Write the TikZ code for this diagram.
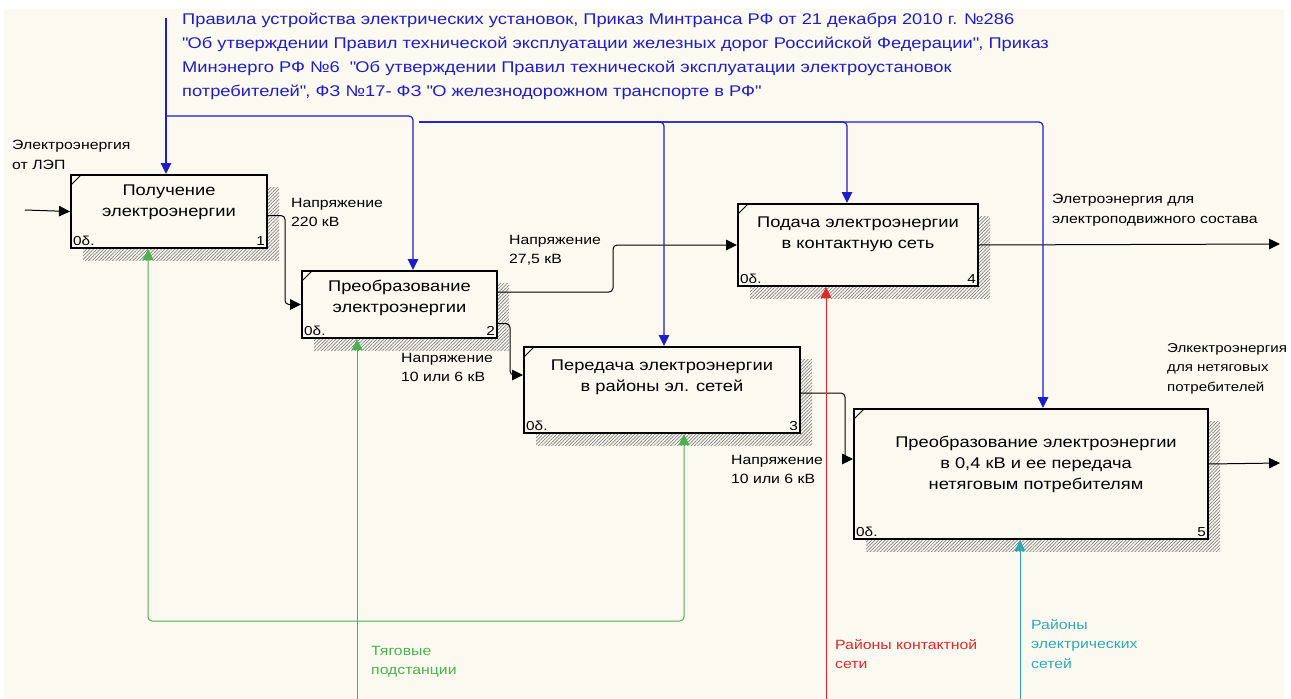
\documentclass[tikz,border=0pt]{standalone}
\usepackage{fontspec}
\setmainfont{Liberation Sans}[FakeStretch=1.18]
\usetikzlibrary{arrows.meta,calc,shadows,patterns.meta}
\definecolor{paper}{HTML}{FCFAF0}
\definecolor{ctrlblue}{HTML}{1E1EC8}
\definecolor{mechgreen}{HTML}{4CB04C}
\definecolor{mechred}{HTML}{E02828}
\definecolor{mechteal}{HTML}{30A8B4}
\tikzset{
  func/.style={draw, line width=2pt, fill=paper, anchor=north west, inner sep=0pt,
    general shadow={shadow xshift=12pt, shadow yshift=-12pt, draw=none,
      pattern={Lines[angle=45,distance=2.4pt,line width=0.7pt]}, pattern color=black!50}},
  boxtext/.style={font=\fontsize{15.5}{21}\selectfont, align=center, inner sep=0pt},
  corner/.style={font=\fontsize{13}{15}\selectfont, inner sep=3pt},
  lbl/.style={font=\fontsize{13.4}{19.5}\selectfont, align=left, anchor=north west, inner sep=0pt},
  tip/.tip={Triangle[length=11pt,width=10.5pt]},
  flow/.style={line width=1pt, -tip},
  ctrl/.style={flow, draw=ctrlblue, line width=1.2pt},
  mech/.style={flow, draw=mechgreen},
}
\begin{document}
\begin{tikzpicture}[x=1pt,y=-1pt]
  \useasboundingbox (0,0) rectangle (1291,699);
  \fill[paper] (4,9) rectangle (1284,699);
  % Function boxes
  \node[func, minimum width=196pt, minimum height=73pt] (b1) at (70,174) {};
  \node[func, minimum width=195pt, minimum height=67pt] (b2) at (301,270) {};
  \node[func, minimum width=276pt, minimum height=86pt] (b3) at (523,346) {};
  \node[func, minimum width=240pt, minimum height=82pt] (b4) at (737,203) {};
  \node[func, minimum width=354pt, minimum height=130pt] (b5) at (853,408) {};
  \foreach \b/\n in {b1/1,b2/2,b3/3,b4/4,b5/5} {
    \draw[line width=1pt] ($(\b.north west)+(1,11)$) -- ($(\b.north west)+(11,1)$);
    \node[corner, anchor=south west] (\b o) at (\b.south west) {0δ.};
    \node[corner, anchor=south east] (\b n) at (\b.south east) {\n};
  }
  \node[boxtext] (t1) at ($(b1.center)+(0,-9)$) {Получение\\электроэнергии};
  \node[boxtext] (t2) at ($(b2.center)+(0,-7)$) {Преобразование\\электроэнергии};
  \node[boxtext] (t3) at ($(b3.center)+(0,-13)$) {Передача электроэнергии\\в районы эл. сетей};
  \node[boxtext] (t4) at ($(b4.center)+(0,-11)$) {Подача электроэнергии\\в контактную сеть};
  \node[boxtext] (t5) at ($(b5.center)+(5,-10)$) {Преобразование электроэнергии\\в 0,4 кВ и ее передача\\нетяговым потребителям};
  % Inputs and outputs
  \coordinate (in1) at (25,210);
  \coordinate (out4) at (1280,244);
  \coordinate (out5) at (1280,463);
  \draw[flow] (in1) -- (b1.west);
  \draw[flow] ([yshift=-4pt]b1.east) [rounded corners=4pt] -- ++(17,0) |- (b2.west);
  \draw[flow] ([yshift=12.5pt]b2.east) [rounded corners=4pt] -- ++(115,0) |- (b4.west);
  \draw[flow] ([yshift=-19pt]b2.east) [rounded corners=4pt] -- ++(12,0) |- ([yshift=15pt]b3.west);
  \draw[flow] ([yshift=-3pt]b3.east) [rounded corners=4pt] -- ++(44,0) |- ([yshift=15pt]b5.west);
  \draw[flow] (b4.east) -- (out4);
  \draw[flow] ([yshift=10pt]b5.east) -- (out5);
  \node[lbl] (l1) at (12,140) {Электроэнергия\\от ЛЭП};
  \node[lbl] (l2) at (291,198) {Напряжение\\220 кВ};
  \node[lbl] (l3) at (509,235) {Напряжение\\27,5 кВ};
  \node[lbl] (l4) at (401,353) {Напряжение\\10 или 6 кВ};
  \node[lbl] (l5) at (731,455) {Напряжение\\10 или 6 кВ};
  \node[lbl] (l6) at (1052,194) {Элетроэнергия для\\электроподвижного состава};
  \node[lbl, font=\fontsize{12.8}{19.5}\selectfont] (l7) at (1167,343) {Элкектроэнергия\\для нетяговых\\потребителей};
  % Controls
  \coordinate (ctop) at (166,18);
  \coordinate (cj1) at (166,116);
  \coordinate (cj2) at (419,122);
  \draw[ctrl] (ctop) -- (ctop |- b1.north);
  \draw[ctrl] (cj1) [rounded corners=4pt] -| ($(b2.north west)+(112,0)$);
  \draw[ctrl] (cj2) [rounded corners=4pt] -| ($(b3.north west)+(141,0)$);
  \draw[ctrl] (cj2) [rounded corners=4pt] -| ($(b4.north west)+(110,0)$);
  \draw[ctrl] (cj2) [rounded corners=4pt] -| ($(b5.north west)+(190,0)$);
  \node[lbl, text=ctrlblue, font=\fontsize{15.5}{24}\selectfont] (rules) at (182,13)
    {Правила устройства электрических установок, Приказ Минтранса РФ от 21 декабря 2010 г. №286\\
     \textquotedbl Об утверждении Правил технической эксплуатации железных дорог Российской Федерации\textquotedbl, Приказ\\
     Минэнерго РФ №6\ \ \textquotedbl Об утверждении Правил технической эксплуатации электроустановок\\
     потребителей\textquotedbl, ФЗ №17- ФЗ \textquotedbl О железнодорожном транспорте в РФ\textquotedbl};
  % Mechanisms
  \coordinate (tsub) at (357,699);
  \coordinate (tj) at (357,621);
  \coordinate (rbot) at (826,699);
  \coordinate (cbot) at (1020,699);
  \draw[mech] (tsub) -- ($(b2.south west)+(56,0)$);
  \draw[mech] (tj) [rounded corners=4pt] -| ($(b1.south west)+(78,0)$);
  \draw[mech] (tj) [rounded corners=4pt] -| ($(b3.south west)+(161,0)$);
  \draw[flow, draw=mechred] (rbot) -- (rbot |- b4.south);
  \draw[flow, draw=mechteal] (cbot) -- (cbot |- b5.south);
  \node[lbl, text=mechgreen] (m1) at (371,646) {Тяговые\\подстанции};
  \node[lbl, text=mechred] (m2) at (835,639) {Районы контактной\\сети};
  \node[lbl, text=mechteal] (m3) at (1031,619) {Районы\\электрических\\сетей};
\end{tikzpicture}
\end{document}
